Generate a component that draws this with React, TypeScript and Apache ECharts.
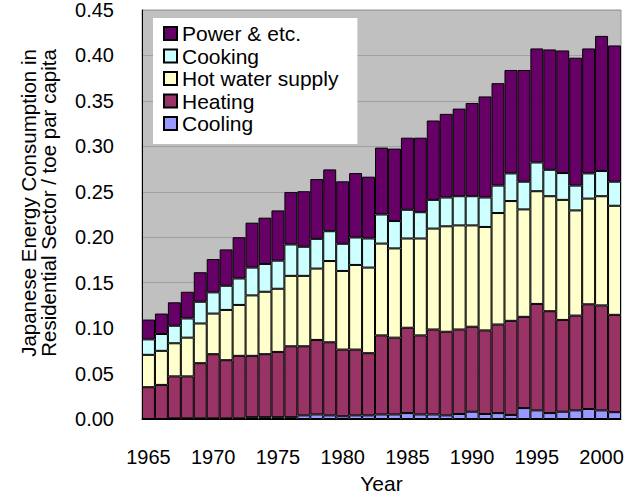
import React, { useEffect, useRef } from "react";
import * as echarts from "echarts";

const years: string[] = [];
for (let y = 1965; y <= 2001; y++) years.push(String(y));

const cooling = [
  0, 0, 0.0007, 0.0007, 0.0007, 0.0007, 0.0007, 0.0007, 0.002, 0.002,
  0.002, 0.002, 0.004, 0.005, 0.004, 0.003, 0.004, 0.004, 0.005, 0.005,
  0.0065, 0.005, 0.005, 0.004, 0.0055, 0.008, 0.0055, 0.0065, 0.0045, 0.012,
  0.0095, 0.0065, 0.008, 0.0095, 0.011, 0.0095, 0.0075,
];
const heating = [
  0.035, 0.0375, 0.0462, 0.0462, 0.0607, 0.0706, 0.064, 0.0688, 0.0675, 0.0693,
  0.0718, 0.078, 0.076, 0.082, 0.0804, 0.0734, 0.0724, 0.0684, 0.087, 0.0845,
  0.0939, 0.087, 0.0935, 0.092, 0.093, 0.0935, 0.092, 0.0975, 0.1035, 0.1004,
  0.1171, 0.1121, 0.101, 0.1043, 0.1152, 0.1155, 0.1071,
];
const hotWater = [
  0.0356, 0.0375, 0.0364, 0.0426, 0.0437, 0.0447, 0.0553, 0.056, 0.0665, 0.0687,
  0.0695, 0.0775, 0.0775, 0.0785, 0.0894, 0.0865, 0.0931, 0.0942, 0.101, 0.0982,
  0.0982, 0.1066, 0.111, 0.116, 0.1145, 0.1115, 0.1138, 0.1226, 0.1318, 0.1182,
  0.124, 0.1265, 0.1321, 0.1157, 0.1163, 0.1201, 0.12,
];
const cooking = [
  0.017, 0.0185, 0.0193, 0.0211, 0.0239, 0.0233, 0.0266, 0.0291, 0.0306, 0.0306,
  0.0309, 0.0345, 0.032, 0.0327, 0.0328, 0.0299, 0.0302, 0.032, 0.032, 0.0301,
  0.0316, 0.0289, 0.0316, 0.0317, 0.0321, 0.0321, 0.0324, 0.0302, 0.0304, 0.0305,
  0.0316, 0.0291, 0.0295, 0.0273, 0.0277, 0.0277, 0.0265,
];
const power = [
  0.0218, 0.0225, 0.0258, 0.0294, 0.0325, 0.0367, 0.04, 0.0454, 0.0494, 0.0509,
  0.0553, 0.0578, 0.0611, 0.0658, 0.068, 0.0687, 0.0709, 0.068, 0.0736, 0.0797,
  0.0793, 0.082, 0.0873, 0.092, 0.0964, 0.1026, 0.1112, 0.1127, 0.1138, 0.1229,
  0.1255, 0.1324, 0.1349, 0.1407, 0.1375, 0.1487, 0.1499,
];

const seriesDefs = [
  { name: "Cooling", data: cooling, color: "#9999FF" },
  { name: "Heating", data: heating, color: "#993366" },
  { name: "Hot water supply", data: hotWater, color: "#FFFFCC" },
  { name: "Cooking", data: cooking, color: "#CCFFFF" },
  { name: "Power & etc.", data: power, color: "#660066" },
];

const legendOrder = ["Power & etc.", "Cooking", "Hot water supply", "Heating", "Cooling"];

const FONT = "'Liberation Sans', Arial, sans-serif";

export default function App() {
  const ref = useRef<HTMLDivElement>(null);
  useEffect(() => {
    if (!ref.current) return;
    const chart = echarts.init(ref.current, undefined, { renderer: "svg" });
    chart.setOption({
      animation: false,
      textStyle: { fontFamily: FONT, color: "#000" },
      grid: {
        left: 142,
        right: 7,
        top: 10,
        bottom: 77,
        show: true,
        backgroundColor: "#C0C0C0",
        borderColor: "#999999",
        borderWidth: 1,
      },
      legend: {
        data: legendOrder,
        orient: "vertical",
        left: 153,
        top: 18,
        backgroundColor: "#FFFFFF",
        padding: [5, 19, 10, 10],
        itemWidth: 13,
        itemHeight: 13,
        itemGap: 1.5,
        itemTextGap: 8,
        icon: "rect",
        selectedMode: false,
        textStyle: { fontFamily: FONT, fontSize: 21, lineHeight: 21, color: "#000" },
      },
      xAxis: {
        type: "category",
        data: years,
        name: "Year",
        nameLocation: "middle",
        nameGap: 54,
        nameTextStyle: { fontFamily: FONT, fontSize: 21, color: "#000" },
        axisLine: { show: true, lineStyle: { color: "#000", width: 1 } },
        axisTick: { show: false },
        axisLabel: { interval: 4, margin: 28, fontSize: 20, fontFamily: FONT, color: "#000" },
      },
      yAxis: {
        type: "value",
        min: 0,
        max: 0.45,
        interval: 0.05,
        axisLine: { show: true, lineStyle: { color: "#000", width: 1 } },
        axisTick: { show: false },
        splitLine: { show: true, lineStyle: { color: "#A0A0A0", width: 1 } },
        axisLabel: {
          margin: 28,
          fontSize: 20,
          fontFamily: FONT,
          color: "#000",
          formatter: (v: number) => v.toFixed(2),
        },
      },
      graphic: [
        {
          type: "text",
          x: 38,
          y: 203,
          rotation: Math.PI / 2,
          style: {
            text: "Japanese Energy Consumption in\nResidential Sector / toe par capita",
            fontFamily: FONT,
            fontSize: 20.5,
            lineHeight: 20,
            fill: "#000",
            textAlign: "center",
            textVerticalAlign: "middle",
          },
        },
      ],
      series: seriesDefs.map((s) => ({
        name: s.name,
        type: "bar",
        stack: "total",
        data: s.data,
        barCategoryGap: "0%",
        itemStyle: { color: s.color, borderColor: "#000", borderWidth: 1 },
      })),
    });
    return () => chart.dispose();
  }, []);
  return (
    <div
      ref={ref}
      style={{ position: "absolute", left: 0, top: 0, width: 628, height: 499 }}
    />
  );
}
